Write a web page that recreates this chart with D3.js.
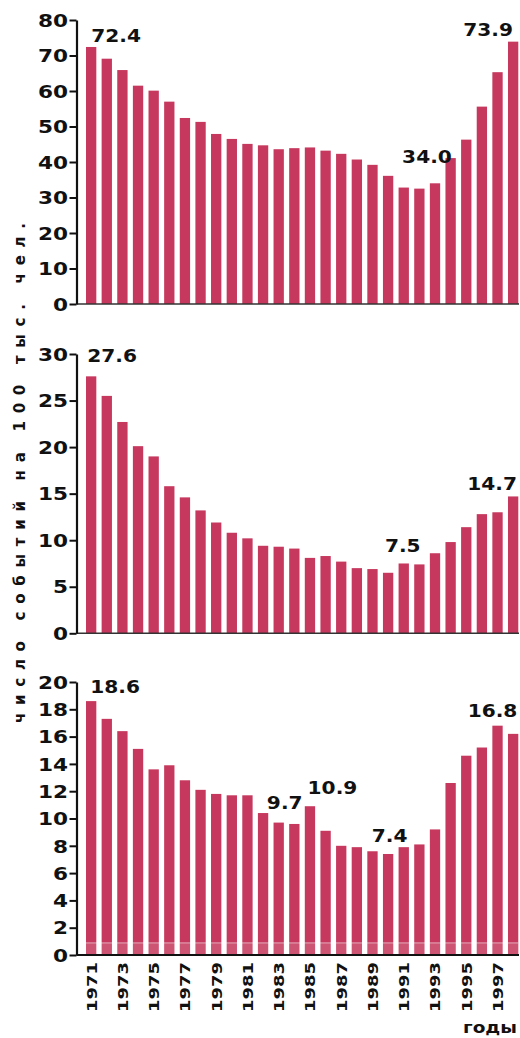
<!DOCTYPE html>
<html>
<head>
<meta charset="utf-8">
<script src="https://cdn.jsdelivr.net/npm/d3@7/dist/d3.min.js"></script>
<style>
  html, body { margin: 0; padding: 0; background: #fff; }
  svg { display: block; }
  text { font-family: "DejaVu Sans", "Liberation Sans", sans-serif; font-weight: bold; fill: #111; }
</style>
</head>
<body>
<svg id="chart" width="520" height="1038"></svg>
<script>
// Years on the horizontal axis
const years = [1971, 1972, 1973, 1974, 1975, 1976, 1977, 1978, 1979, 1980,
               1981, 1982, 1983, 1984, 1985, 1986, 1987, 1988, 1989, 1990,
               1991, 1992, 1993, 1994, 1995, 1996, 1997, 1998];
const yearTickLabels = [1971, 1973, 1975, 1977, 1979, 1981, 1983, 1985, 1987, 1989, 1991, 1993, 1995, 1997];

// Events per 100 000 people, one series per panel
const seriesTop = [72.4, 69.1, 65.9, 61.5, 60.1, 57.0, 52.4, 51.3, 47.9, 46.5,
                   45.1, 44.7, 43.6, 43.9, 44.1, 43.2, 42.3, 40.7, 39.2, 36.1,
                   32.8, 32.5, 34.0, 41.1, 46.3, 55.6, 65.3, 73.9];
const seriesMiddle = [27.6, 25.5, 22.7, 20.1, 19.0, 15.8, 14.6, 13.2, 11.9, 10.8,
                      10.2, 9.4, 9.3, 9.1, 8.1, 8.3, 7.7, 7.0, 6.9, 6.5,
                      7.5, 7.4, 8.6, 9.8, 11.4, 12.8, 13.0, 14.7];
const seriesBottom = [18.6, 17.3, 16.4, 15.1, 13.6, 13.9, 12.8, 12.1, 11.8, 11.7,
                      11.7, 10.4, 9.7, 9.6, 10.9, 9.1, 8.0, 7.9, 7.6, 7.4,
                      7.9, 8.1, 9.2, 12.6, 14.6, 15.2, 16.8, 16.2];

// Value axis ticks
const ticksTop = [0, 10, 20, 30, 40, 50, 60, 70, 80];
const ticksMiddle = [0, 5, 10, 15, 20, 25, 30];
const ticksBottom = [0, 2, 4, 6, 8, 10, 12, 14, 16, 18, 20];

// Years whose bars carry a value label
const labelledTop = [1971, 1993, 1998];
const labelledMiddle = [1971, 1991, 1998];
const labelledBottom = [1971, 1983, 1985, 1990, 1997];

const axisTitle = "число событий на 100 тыс. чел.";
const xTitle = "годы";

// ---- layout ----
const barColor = "#c6385e";
const axisX = 76.5;
const svg = d3.select("#chart");

const x = d3.scaleBand()
  .domain(years)
  .range([86, 518.3])
  .paddingInner(0.34)
  .paddingOuter(0);

// label placement: horizontal shift from bar centre and gap above the bar top
const labelLayout = {
  top:    { 1971: [25, 5], 1993: [-8, 20], 1998: [-25, 5.5] },
  middle: { 1971: [21, 14], 1991: [-1, 11], 1998: [-21, 6.5] },
  bottom: { 1971: [24, 8], 1983: [6, 14], 1985: [22.5, 12.5], 1990: [1.5, 12], 1997: [-5, 8.5] }
};

const panels = [
  { key: "top", values: seriesTop, ticks: ticksTop, max: 80, top: 20, bottom: 304, labelled: labelledTop, baseW: 1.6, baseC: "#333" },
  { key: "middle", values: seriesMiddle, ticks: ticksMiddle, max: 30, top: 354, bottom: 633.3, labelled: labelledMiddle, baseW: 1.6, baseC: "#333" },
  { key: "bottom", values: seriesBottom, ticks: ticksBottom, max: 20, top: 682, bottom: 955, labelled: labelledBottom, baseW: 2.2, baseC: "#111" }
];

panels.forEach(p => {
  const y = d3.scaleLinear().domain([0, p.max]).range([p.bottom, p.top]);
  const g = svg.append("g").attr("class", "panel-" + p.key);

  // bars
  g.selectAll("rect.bar")
    .data(p.values)
    .join("rect")
    .attr("class", "bar")
    .attr("x", (d, i) => x(years[i]))
    .attr("width", x.bandwidth())
    .attr("y", d => y(d))
    .attr("height", d => y(0) - y(d))
    .attr("fill", barColor);

  // pale printing band along the bottom of the lowest panel
  if (p.key === "bottom") {
    g.append("rect")
      .attr("x", x(years[0]))
      .attr("width", x.range()[1] - x(years[0]))
      .attr("y", y(0.95))
      .attr("height", y(0) - y(0.95))
      .attr("fill", "#fff")
      .attr("opacity", 0.14);
    g.append("line")
      .attr("x1", x(years[0])).attr("x2", x.range()[1])
      .attr("y1", y(0.88)).attr("y2", y(0.88))
      .attr("stroke", "#fff").attr("stroke-width", 1).attr("opacity", 0.45);
  }

  // baseline
  g.append("line")
    .attr("x1", axisX).attr("x2", 519)
    .attr("y1", y(0)).attr("y2", y(0))
    .attr("stroke", p.baseC).attr("stroke-width", p.baseW);

  // value axis
  const axis = d3.axisLeft(y).tickValues(p.ticks).tickSize(7).tickSizeOuter(0).tickFormat(d3.format("d"));
  const ag = g.append("g")
    .attr("transform", `translate(${axisX},0)`)
    .call(axis)
    .attr("font-size", null)
    .attr("font-family", null);
  ag.select(".domain").attr("stroke", "#111").attr("stroke-width", 2.2);
  ag.selectAll(".tick line").attr("stroke", "#111").attr("stroke-width", 2);
  ag.selectAll(".tick text")
    .attr("x", null)
    .attr("dy", null)
    .attr("text-anchor", "end")
    .attr("fill", "#111")
    .style("font-size", "17px")
    .attr("transform", "translate(-8.5,6.2) scale(1.27,1)");

  // value labels
  const layout = labelLayout[p.key];
  p.labelled.forEach(yr => {
    const i = years.indexOf(yr);
    const v = p.values[i];
    const [dx, gap] = layout[yr];
    const cx = x(yr) + x.bandwidth() / 2 + dx;
    g.append("g")
      .attr("transform", `translate(${cx},${y(v) - gap})`)
      .append("text")
      .attr("text-anchor", "middle")
      .attr("transform", "scale(1.12,1)")
      .style("font-size", "18px")
      .text(v.toFixed(1));
  });
});

// year labels under the lowest panel
svg.append("g").attr("class", "year-labels")
  .selectAll("text")
  .data(yearTickLabels)
  .join("text")
  .attr("transform", d => `translate(${x(d) + x.bandwidth() / 2 + 5.5},962) rotate(-90)`)
  .attr("text-anchor", "end")
  .attr("textLength", 50)
  .attr("lengthAdjust", "spacingAndGlyphs")
  .style("font-size", "14.5px")
  .text(d => d);

// shared vertical title
svg.append("text")
  .attr("transform", "translate(25,473) rotate(-90)")
  .attr("text-anchor", "middle")
  .attr("textLength", 500)
  .attr("lengthAdjust", "spacing")
  .style("font-size", "15px")
  .text(axisTitle);

// horizontal axis title
svg.append("text")
  .attr("x", 517)
  .attr("y", 1033)
  .attr("text-anchor", "end")
  .attr("textLength", 54)
  .attr("lengthAdjust", "spacingAndGlyphs")
  .style("font-size", "16px")
  .text(xTitle);
</script>
</body>
</html>
